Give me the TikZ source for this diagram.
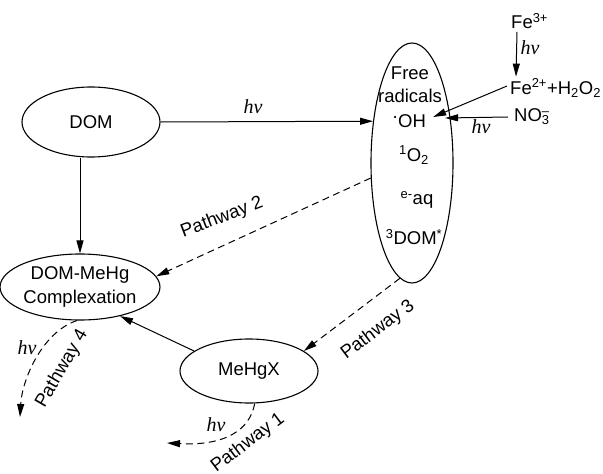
\documentclass[tikz,border=0pt]{standalone}
\usepackage{fontspec}
\setmainfont{Liberation Sans}
\newfontfamily\hvfont{Liberation Serif}
\usetikzlibrary{shapes.geometric,arrows.meta,calc}
\newcommand{\supsubx}[2]{\makebox[0pt][l]{\textsuperscript{#1}}\textsubscript{#2}}
\begin{document}
\begin{tikzpicture}[x=1pt,y=-1pt,font=\fontsize{18.5}{24}\selectfont]
\tikzset{
 bub/.style={draw, ellipse, inner sep=0pt, line width=1.1pt},
 arr/.style={-{Triangle[length=13pt,width=7pt]}, line width=1pt},
 dsh/.style={arr, dash pattern=on 7pt off 4.5pt},
 lbl/.style={inner sep=0pt},
 hvl/.style={inner sep=0pt, font=\fontsize{20}{22}\selectfont\hvfont\itshape},
}
\useasboundingbox (0,0) rectangle (603,474);
\node[bub, minimum width=138pt, minimum height=70pt] (dom) at (91,122) {DOM};
\node[bub, minimum width=82pt, minimum height=240pt] (fr) at (412,163) {};
\node[bub, minimum width=136pt, minimum height=66pt, align=center] (dmh) at (80,287) {DOM-MeHg\\Complexation};
\node[bub, minimum width=138pt, minimum height=64pt] (mx) at (249,371) {MeHgX};

\node[lbl] (t1) at (410,73) {Free};
\node[lbl] (t2) at (410,96) {radicals};
\node[lbl] (oh) at (409,121) {\raisebox{.45ex}{·}OH};
\node[lbl] (o2) at (414,155) {\textsuperscript{1}O\textsubscript{2}};
\node[lbl] (eaq) at (417,200) {\textsuperscript{e-}aq};
\node[lbl] (tdom) at (414,237) {\textsuperscript{3}DOM\textsuperscript{*}};

\node[lbl, anchor=west] (fe3) at (511,21) {Fe\textsuperscript{3+}};
\node[lbl, anchor=west] (fe2) at (510,88) {Fe\textsuperscript{2+}+H\textsubscript{2}O\textsubscript{2}};
\node[lbl, anchor=west] (no3) at (514,117) {NO\supsubx{–}{3}};

\node[hvl] (hv1) at (253,107) {hν};
\node[hvl] (hv2) at (530,48) {hν};
\node[hvl] (hv3) at (481,127) {hν};
\node[hvl] (hv4) at (27,348) {hν};
\node[hvl] (hv5) at (216,425) {hν};

\node[lbl, rotate=21] (p2) at (222,218) {Pathway 2};
\node[lbl, rotate=37] (p3) at (378,330) {Pathway 3};
\node[lbl, rotate=60] (p4) at (62,369) {Pathway 4};
\node[lbl, rotate=37] (p1) at (248,443) {Pathway 1};

\draw[arr] ($(fe3.south west)+(6,3)$) -- ($(fe2.north west)+(6,-2)$);
\draw[arr] ($(fe2.west)+(-3,-2)$) -- ($(oh.east)+(7,-4)$);
\draw[arr] ($(no3.west)+(-6,0)$) -- ($(oh.east)+(19,-3)$);

\draw[arr] (dom.east) -- (fr.133);
\draw[arr] (dom.south -| dmh.north) -- (dmh.north);
\draw[arr] (mx.160) -- (dmh.-36);
\draw[dsh] (fr.200) -- (dmh.8);
\draw[dsh] (fr.264) -- (mx.20);
\coordinate (p4e) at (20,417);
\draw[dsh] (dmh.-95) .. controls (42,332) and (22,380) .. (p4e);
\coordinate (p1e) at (167,443);
\draw[dsh] (mx.-80) .. controls (250,430) and (225,446) .. (p1e);
\end{tikzpicture}
\end{document}
